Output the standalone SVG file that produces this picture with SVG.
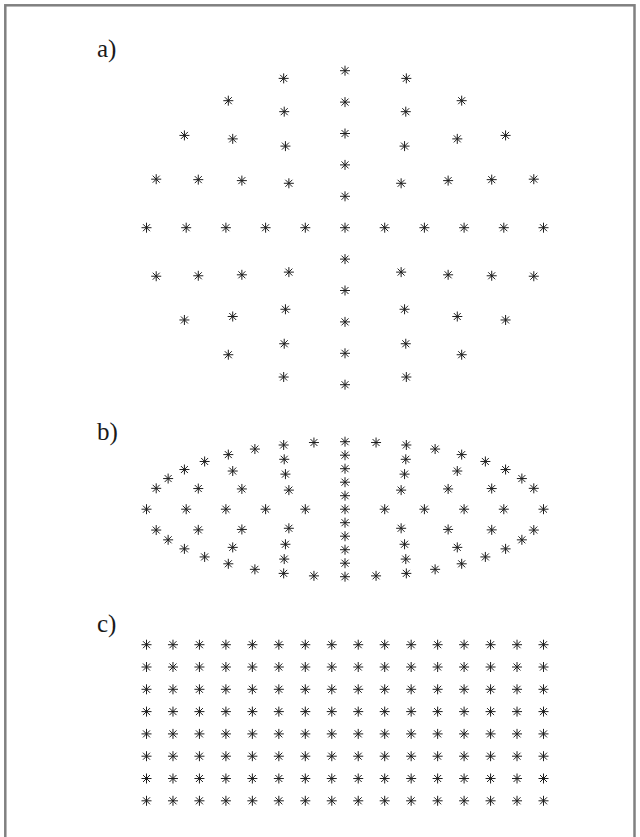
<svg xmlns="http://www.w3.org/2000/svg" xmlns:xlink="http://www.w3.org/1999/xlink" width="640" height="837" viewBox="0 0 640 837">
<style>
.lbl{font-family:"Liberation Serif","Times New Roman",serif;font-size:25px;fill:#1a1a1a}
.ast{fill:none;stroke:#1e1e1e;stroke-width:1}
</style>
<defs>
<path id="s" class="ast" d="M-5 0H5M0-5V5M-3.5-3.5L3.5 3.5M-3.5 3.5L3.5-3.5"/>
<g id="crow">
<use href="#s" x="146.5"/><use href="#s" x="172.97"/><use href="#s" x="199.43"/><use href="#s" x="225.9"/>
<use href="#s" x="252.37"/><use href="#s" x="278.83"/><use href="#s" x="305.3"/><use href="#s" x="331.77"/>
<use href="#s" x="358.23"/><use href="#s" x="384.7"/><use href="#s" x="411.17"/><use href="#s" x="437.63"/>
<use href="#s" x="464.1"/><use href="#s" x="490.57"/><use href="#s" x="517.03"/><use href="#s" x="543.5"/>
</g>
</defs>
<rect width="640" height="837" fill="#ffffff"/>
<rect id="frame" x="5.3" y="5.3" width="629.2" height="860" fill="none" stroke="#808080" stroke-width="2.5"/>

<g id="panel-a">
<text class="lbl" x="97" y="57">a)</text>
<use href="#s" x="345" y="227.7"/>
<use href="#s" x="384.7" y="227.7"/><use href="#s" x="305.3" y="227.7"/><use href="#s" x="345" y="196.3"/><use href="#s" x="345" y="259.1"/>
<use href="#s" x="424.4" y="227.7"/><use href="#s" x="265.6" y="227.7"/><use href="#s" x="345" y="164.9"/><use href="#s" x="345" y="290.5"/>
<use href="#s" x="401.14" y="183.29"/><use href="#s" x="288.86" y="183.29"/><use href="#s" x="401.14" y="272.11"/><use href="#s" x="288.86" y="272.11"/>
<use href="#s" x="464.1" y="227.7"/><use href="#s" x="225.9" y="227.7"/><use href="#s" x="345" y="133.5"/><use href="#s" x="345" y="321.9"/>
<use href="#s" x="448.14" y="180.6"/><use href="#s" x="241.86" y="180.6"/><use href="#s" x="448.14" y="274.8"/><use href="#s" x="241.86" y="274.8"/>
<use href="#s" x="404.55" y="146.12"/><use href="#s" x="285.45" y="146.12"/><use href="#s" x="404.55" y="309.28"/><use href="#s" x="285.45" y="309.28"/>
<use href="#s" x="503.8" y="227.7"/><use href="#s" x="186.2" y="227.7"/><use href="#s" x="345" y="102.1"/><use href="#s" x="345" y="353.3"/>
<use href="#s" x="491.71" y="179.63"/><use href="#s" x="198.29" y="179.63"/><use href="#s" x="491.71" y="275.77"/><use href="#s" x="198.29" y="275.77"/>
<use href="#s" x="457.29" y="138.89"/><use href="#s" x="232.71" y="138.89"/><use href="#s" x="457.29" y="316.51"/><use href="#s" x="232.71" y="316.51"/>
<use href="#s" x="405.77" y="111.66"/><use href="#s" x="284.23" y="111.66"/><use href="#s" x="405.77" y="343.74"/><use href="#s" x="284.23" y="343.74"/>
<use href="#s" x="543.5" y="227.7"/><use href="#s" x="146.5" y="227.7"/><use href="#s" x="345" y="70.7"/><use href="#s" x="345" y="384.7"/>
<use href="#s" x="533.79" y="179.18"/><use href="#s" x="156.21" y="179.18"/><use href="#s" x="533.79" y="276.22"/><use href="#s" x="156.21" y="276.22"/>
<use href="#s" x="505.59" y="135.42"/><use href="#s" x="184.41" y="135.42"/><use href="#s" x="505.59" y="319.98"/><use href="#s" x="184.41" y="319.98"/>
<use href="#s" x="461.68" y="100.68"/><use href="#s" x="228.32" y="100.68"/><use href="#s" x="461.68" y="354.72"/><use href="#s" x="228.32" y="354.72"/>
<use href="#s" x="406.34" y="78.38"/><use href="#s" x="283.66" y="78.38"/><use href="#s" x="406.34" y="377.02"/><use href="#s" x="283.66" y="377.02"/>
</g>

<g id="panel-b">
<text class="lbl" x="97" y="440">b)</text>
<use href="#s" x="345" y="509.2"/>
<use href="#s" x="384.7" y="509.2"/><use href="#s" x="305.3" y="509.2"/><use href="#s" x="345" y="495.7"/><use href="#s" x="345" y="522.7"/>
<use href="#s" x="424.4" y="509.2"/><use href="#s" x="265.6" y="509.2"/><use href="#s" x="345" y="482.2"/><use href="#s" x="345" y="536.2"/>
<use href="#s" x="401.14" y="490.11"/><use href="#s" x="288.86" y="490.11"/><use href="#s" x="401.14" y="528.29"/><use href="#s" x="288.86" y="528.29"/>
<use href="#s" x="464.1" y="509.2"/><use href="#s" x="225.9" y="509.2"/><use href="#s" x="345" y="468.7"/><use href="#s" x="345" y="549.7"/>
<use href="#s" x="448.14" y="488.95"/><use href="#s" x="241.86" y="488.95"/><use href="#s" x="448.14" y="529.45"/><use href="#s" x="241.86" y="529.45"/>
<use href="#s" x="404.55" y="474.13"/><use href="#s" x="285.45" y="474.13"/><use href="#s" x="404.55" y="544.27"/><use href="#s" x="285.45" y="544.27"/>
<use href="#s" x="503.8" y="509.2"/><use href="#s" x="186.2" y="509.2"/><use href="#s" x="345" y="455.2"/><use href="#s" x="345" y="563.2"/>
<use href="#s" x="491.71" y="488.54"/><use href="#s" x="198.29" y="488.54"/><use href="#s" x="491.71" y="529.86"/><use href="#s" x="198.29" y="529.86"/>
<use href="#s" x="457.29" y="471.02"/><use href="#s" x="232.71" y="471.02"/><use href="#s" x="457.29" y="547.38"/><use href="#s" x="232.71" y="547.38"/>
<use href="#s" x="405.77" y="459.31"/><use href="#s" x="284.23" y="459.31"/><use href="#s" x="405.77" y="559.09"/><use href="#s" x="284.23" y="559.09"/>
<use href="#s" x="543.5" y="509.2"/><use href="#s" x="146.5" y="509.2"/><use href="#s" x="345" y="441.7"/><use href="#s" x="345" y="576.7"/>
<use href="#s" x="533.79" y="488.34"/><use href="#s" x="156.21" y="488.34"/><use href="#s" x="533.79" y="530.06"/><use href="#s" x="156.21" y="530.06"/>
<use href="#s" x="521.86" y="478.56"/><use href="#s" x="168.14" y="478.56"/><use href="#s" x="521.86" y="539.84"/><use href="#s" x="168.14" y="539.84"/>
<use href="#s" x="505.59" y="469.53"/><use href="#s" x="184.41" y="469.53"/><use href="#s" x="505.59" y="548.87"/><use href="#s" x="184.41" y="548.87"/>
<use href="#s" x="485.36" y="461.47"/><use href="#s" x="204.64" y="461.47"/><use href="#s" x="485.36" y="556.93"/><use href="#s" x="204.64" y="556.93"/>
<use href="#s" x="461.68" y="454.59"/><use href="#s" x="228.32" y="454.59"/><use href="#s" x="461.68" y="563.81"/><use href="#s" x="228.32" y="563.81"/>
<use href="#s" x="435.12" y="449.06"/><use href="#s" x="254.88" y="449.06"/><use href="#s" x="435.12" y="569.34"/><use href="#s" x="254.88" y="569.34"/>
<use href="#s" x="406.34" y="445"/><use href="#s" x="283.66" y="445"/><use href="#s" x="406.34" y="573.4"/><use href="#s" x="283.66" y="573.4"/>
<use href="#s" x="376.05" y="442.53"/><use href="#s" x="313.95" y="442.53"/><use href="#s" x="376.05" y="575.87"/><use href="#s" x="313.95" y="575.87"/>
</g>

<g id="panel-c">
<text class="lbl" x="97" y="632">c)</text>
<use href="#crow" y="644.7"/>
<use href="#crow" y="667"/>
<use href="#crow" y="689.3"/>
<use href="#crow" y="711.6"/>
<use href="#crow" y="733.9"/>
<use href="#crow" y="756.2"/>
<use href="#crow" y="778.5"/>
<use href="#crow" y="800.8"/>
</g>
</svg>
